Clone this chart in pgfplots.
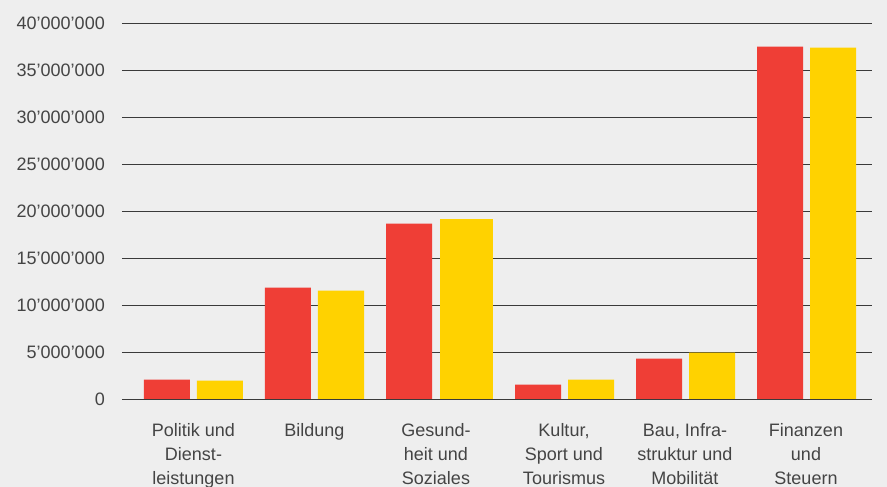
\documentclass[border=0pt]{standalone}
\usepackage{pgfplots}
\pgfplotsset{compat=1.18}
\usepackage{fontspec}
\setmainfont{Liberation Sans}
\definecolor{bgc}{RGB}{238,238,238}
\definecolor{barred}{RGB}{239,62,54}
\definecolor{baryel}{RGB}{255,210,0}
\definecolor{txt}{RGB}{68,68,68}
\definecolor{gridc}{RGB}{58,58,58}
\begin{document}
\begin{tikzpicture}
\fill[bgc] (-122pt,-88pt) rectangle (765pt,399pt);
\begin{axis}[
  at={(0pt,0pt)}, anchor=south west,
  scale only axis, width=750pt, height=376pt,
  xmin=122, xmax=872,
  ymin=0, ymax=40000000,
  ybar, bar width=46,
  axis line style={draw=none},
  major tick length=0pt,
  ymajorgrids,
  grid style={gridc, line width=0.7pt},
  ytick={0,5000000,10000000,15000000,20000000,25000000,30000000,35000000,40000000},
  yticklabels={0,5’000’000,10’000’000,15’000’000,20’000’000,25’000’000,30’000’000,35’000’000,40’000’000},
  yticklabel style={anchor=east, inner sep=0pt, xshift=-17pt, font=\fontsize{18}{24}\selectfont, text=txt},
  xtick={193.5,314.5,436,564,685,806},
  xticklabels={{Politik und\\Dienst-\\leistungen},{Bildung},{Gesund-\\heit und\\Soziales},{Kultur,\\Sport und\\Tourismus},{Bau, Infra-\\struktur und\\Mobilität},{Finanzen\\und\\Steuern}},
  xticklabel style={anchor=north, align=center, inner sep=0pt, yshift=-24pt, font=\fontsize{18}{24}\selectfont, text=txt},
  scaled y ticks=false,
  clip=false,
]
\addplot[fill=barred, draw=none, bar shift=0] coordinates {
 (167,2050000) (288,11840000) (409,18650000) (538,1520000) (659,4290000) (780,37480000)};
\addplot[fill=baryel, draw=none, bar shift=0] coordinates {
 (220,1950000) (341,11520000) (591,2050000) (712,4930000) (833,37370000)};
\addplot[fill=baryel, draw=none, bar shift=0, bar width=53] coordinates {
 (466.5,19180000)};
\end{axis}
\pgfresetboundingbox
\path[use as bounding box] (-122pt,-88pt) rectangle (765pt,399pt);
\end{tikzpicture}
\end{document}
